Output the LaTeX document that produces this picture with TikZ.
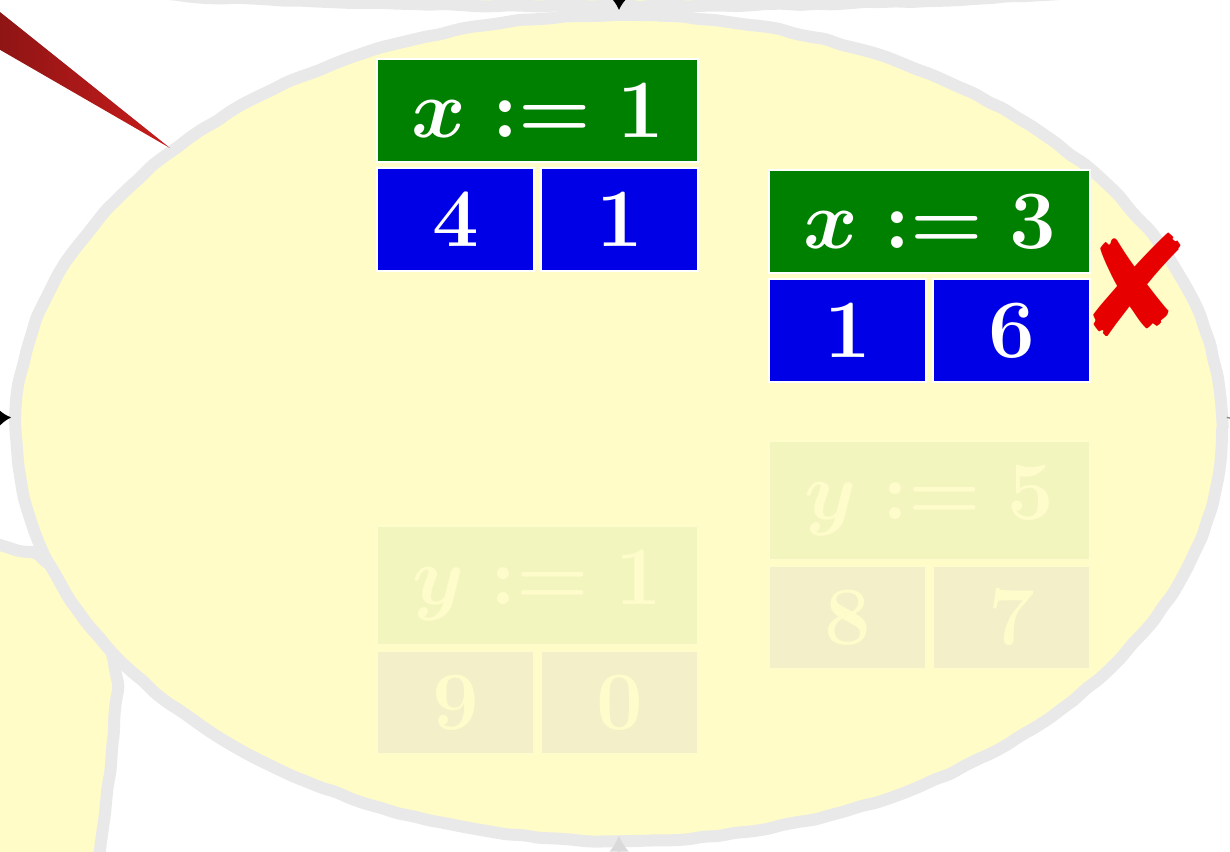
\documentclass[tikz,border=0pt]{standalone}
\usepackage{pifont}
\usetikzlibrary{shapes.geometric,decorations.pathmorphing,arrows.meta}
\definecolor{ellfill}{RGB}{255,252,200}
\definecolor{ellline}{RGB}{233,233,233}
\definecolor{hgreen}{RGB}{0,128,0}
\definecolor{hblue}{RGB}{0,0,230}
\definecolor{fgreen}{RGB}{242,246,190}
\definecolor{fblue}{RGB}{242,239,201}
\definecolor{ftext}{RGB}{255,252,203}
\definecolor{xred}{RGB}{230,0,0}
\definecolor{wedgeL}{RGB}{140,20,20}
\definecolor{wedgeR}{RGB}{200,28,28}
\definecolor{fadetip}{RGB}{218,218,218}
\begin{document}
\begin{tikzpicture}[x=0.25pt,y=-0.25pt,
  rough/.style={decorate, decoration={random steps, segment length=4pt, amplitude=0.25pt}, rounded corners=1.2pt},
  blob/.style={rough, draw=ellline, fill=ellfill, line width=3pt},
  cellbase/.style={line width=0.5pt, anchor=north west, inner xsep=0pt, inner ysep=6.15pt, font=\huge\boldmath},
  hdr/.style={cellbase, minimum width=80.25pt},
  cel/.style={cellbase, minimum width=39.25pt},
  livehdr/.style={hdr, fill=hgreen, draw=white, text=white},
  livecel/.style={cel, fill=hblue, draw=white, text=white},
  fadehdr/.style={hdr, fill=fgreen, draw=ftext, text=ftext},
  fadecel/.style={cel, fill=fblue, draw=ftext, text=ftext},
  tipline/.style={line width=0.6pt, -{Latex[length=3pt,width=4.2pt]}}
]
\pgfmathsetseed{7}
\useasboundingbox (0,0) rectangle (1230,851);

% shape above (only its lower rim shows)
\draw[blob] (605,-24) ellipse [x radius=560, y radius=30];

% shape at the lower left
\draw[blob] plot[smooth, tension=0.6] coordinates {(-60,530) (0,545) (40,558) (85,603) (114,665) (112,750) (100,851) (96,900)} -- (-60,900) -- cycle;

% main ellipse
\draw[blob] (619,428) ellipse [x radius=603, y radius=413];
\node[ellipse, minimum width=304pt, minimum height=209pt, inner sep=0pt, outer sep=0pt] (ell) at (619,428) {};

% connectors reaching the ellipse
\coordinate (topfree) at (620,-80);
\coordinate (leftfree) at (-80,421);
\coordinate (botfree) at (620,930);
\coordinate (rightfree) at (1245,421);
\draw[tipline] (topfree) -- (ell.north);
\draw[tipline] (leftfree) -- (ell.179);
\draw[fadetip, line width=0.6pt, -{Latex[length=4pt,width=5pt]}, shorten >=-2.6pt] (botfree) -- (ell.south);
\draw[black!45, line width=0.35pt] (ell.1) -- (rightfree);

% live boxes
\node[livehdr] (h1) at (376,58) {$x := 1$};
\node[livecel] (c11) at (376,167) {$4$};
\node[livecel] (c12) at (540,167) {$1$};

\node[livehdr] (h3) at (768,169) {$x := 3$};
\node[livecel] (c31) at (768,278) {$1$};
\node[livecel] (c32) at (932,278) {$6$};

% faded boxes
\node[fadehdr] (h5) at (768,440) {$y := 5$};
\node[fadecel] (c51) at (768,565) {$8$};
\node[fadecel] (c52) at (932,565) {$7$};

\node[fadehdr] (h2) at (376,525) {$y := 1$};
\node[fadecel] (c21) at (376,650) {$9$};
\node[fadecel] (c22) at (540,650) {$0$};

% red pointer wedge
\shade[left color=wedgeL, right color=wedgeR] (-10,4) -- (170,148) -- (-10,44) -- cycle;

% red cross
\node[text=xred, font=\fontsize{36}{36}\selectfont, inner sep=0pt] (cross) at (1137,284) {\ding{56}};
\end{tikzpicture}
\end{document}
